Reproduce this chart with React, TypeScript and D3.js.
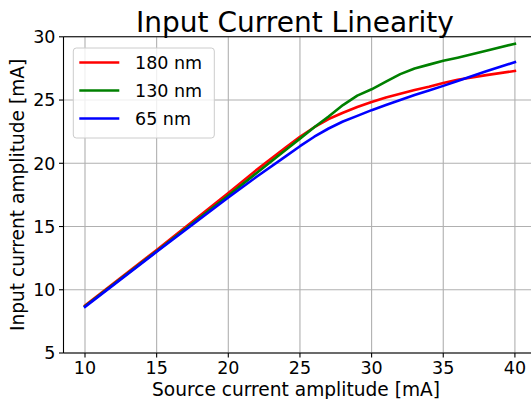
import React from "react";
import * as d3 from "d3";

const xValues = [10, 15, 20, 22, 24, 25, 26, 27, 28, 29, 30, 31, 32, 33, 34, 35, 36, 38, 40];
const red180 = [8.75, 13.15, 17.65, 19.5, 21.25, 22.1, 22.85, 23.5, 24.0, 24.45, 24.85, 25.2, 25.5, 25.8, 26.05, 26.35, 26.6, 26.97, 27.3];
const green130 = [8.7, 13.05, 17.45, 19.25, 21.05, 21.95, 22.85, 23.7, 24.6, 25.35, 25.85, 26.45, 27.05, 27.5, 27.8, 28.1, 28.35, 28.9, 29.45];
const blue65 = [8.65, 13.0, 17.3, 18.95, 20.55, 21.35, 22.1, 22.75, 23.3, 23.75, 24.2, 24.6, 25.0, 25.4, 25.75, 26.12, 26.5, 27.27, 28.0];
const seriesNames = ["180 nm", "130 nm", "65 nm"];
const seriesColors = ["#ff0000", "#008000", "#0000ff"];
const xTicks = [10, 15, 20, 25, 30, 35, 40];
const yTicks = [5, 10, 15, 20, 25, 30];

const W = 531;
const H = 399;
const left = 63.5;
const right = 536.4;
const top = 36.8;
const bottom = 353;
const font = "DejaVu Sans, sans-serif";
const tickFs = 17.5;
const labelFs = 18.6;

export default function App() {
  const x = d3.scaleLinear().domain([8.5, 41.5]).range([left, right]);
  const y = d3.scaleLinear().domain([5, 30]).range([bottom, top]);
  const series = [red180, green130, blue65];
  const line = d3
    .line<number>()
    .x((_, i) => x(xValues[i]))
    .y((d) => y(d));

  return (
    <svg width={W} height={H} style={{ position: "absolute", left: 0, top: 0, background: "#fff" }}>
      <rect x={0} y={0} width={W} height={H} fill="#fff" />
      <defs>
        <clipPath id="plotclip">
          <rect x={left} y={top} width={right - left} height={bottom - top} />
        </clipPath>
      </defs>
      {xTicks.map((t) => (
        <line key={"gx" + t} x1={x(t)} x2={x(t)} y1={top} y2={bottom} stroke="#b0b0b0" strokeWidth={1.1} />
      ))}
      {yTicks.map((t) => (
        <line key={"gy" + t} x1={left} x2={right} y1={y(t)} y2={y(t)} stroke="#b0b0b0" strokeWidth={1.1} />
      ))}
      <g clipPath="url(#plotclip)">
        {series.map((s, i) => (
          <path key={i} d={line(s) || ""} fill="none" stroke={seriesColors[i]} strokeWidth={2.6} strokeLinejoin="round" strokeLinecap="square" />
        ))}
      </g>
      <line x1={left} x2={left} y1={top} y2={bottom} stroke="#000" strokeWidth={1.1} />
      <line x1={left} x2={right} y1={bottom} y2={bottom} stroke="#000" strokeWidth={1.1} />
      <line x1={left} x2={right} y1={top} y2={top} stroke="#000" strokeWidth={1.1} />
      <line x1={right} x2={right} y1={top} y2={bottom} stroke="#000" strokeWidth={1.1} />
      {xTicks.map((t) => (
        <g key={"tx" + t}>
          <line x1={x(t)} x2={x(t)} y1={bottom} y2={bottom + 4.5} stroke="#000" strokeWidth={1.1} />
          <text x={x(t)} y={bottom + 21.3} textAnchor="middle" fontFamily={font} fontSize={tickFs} fill="#000">
            {t}
          </text>
        </g>
      ))}
      {yTicks.map((t) => (
        <g key={"ty" + t}>
          <line x1={left - 4.5} x2={left} y1={y(t)} y2={y(t)} stroke="#000" strokeWidth={1.1} />
          <text x={left - 8} y={y(t)} dy="0.36em" textAnchor="end" fontFamily={font} fontSize={tickFs} fill="#000">
            {t}
          </text>
        </g>
      ))}
      <text x={296} y={396} textAnchor="middle" fontFamily={font} fontSize={labelFs} fill="#000">
        Source current amplitude [mA]
      </text>
      <text transform={`translate(24,${(top + bottom) / 2}) rotate(-90)`} textAnchor="middle" fontFamily={font} fontSize={labelFs} fill="#000">
        Input current amplitude [mA]
      </text>
      <text x={295} y={32.3} textAnchor="middle" fontFamily={font} fontSize={28} fill="#000">
        Input Current Linearity
      </text>
      <rect x={73.3} y={48} width={141} height={90} rx={3} fill="#fff" fillOpacity={0.8} stroke="#cccccc" strokeWidth={1} />
      {seriesNames.map((n, i) => (
        <g key={n}>
          <line x1={79.3} x2={119.3} y1={62.5 + i * 28} y2={62.5 + i * 28} stroke={seriesColors[i]} strokeWidth={2.6} />
          <text x={135} y={62.5 + i * 28} dy="0.36em" fontFamily={font} fontSize={tickFs} fill="#000">
            {n}
          </text>
        </g>
      ))}
    </svg>
  );
}
